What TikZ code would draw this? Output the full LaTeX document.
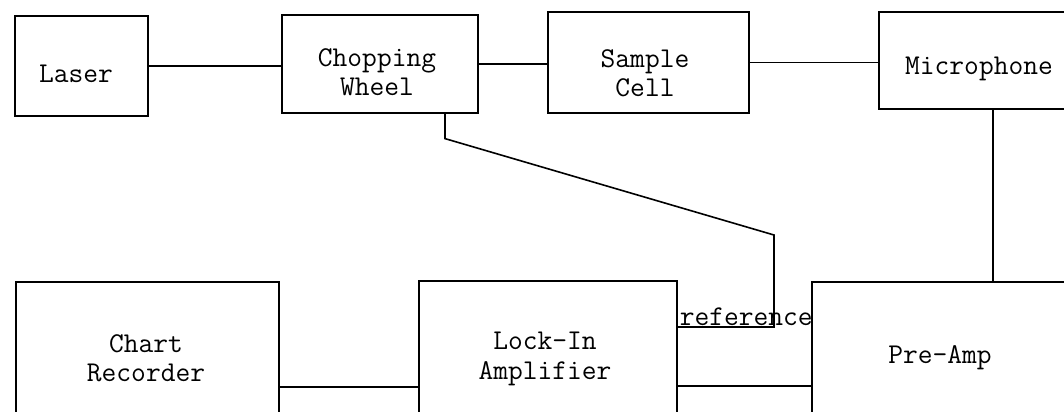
\documentclass[tikz,border=0pt]{standalone}
\usetikzlibrary{calc}
\begin{document}
\begin{tikzpicture}[x=0.75pt,y=-0.75pt, line width=1.2pt,
  box/.style={draw, rectangle, anchor=north west, inner sep=0pt},
  lbl/.style={font=\ttfamily\fontsize{21.5}{22}\selectfont, align=center, inner sep=0pt}]
\useasboundingbox (0,0) rectangle (1064,411);
\clip (0,0) rectangle (1064,411);
% boxes
\node[box, minimum width=133*0.75pt, minimum height=100*0.75pt] (laser) at (14,15) {};
\node[box, minimum width=196*0.75pt, minimum height=98*0.75pt] (chop) at (281,14) {};
\node[box, minimum width=201*0.75pt, minimum height=101*0.75pt] (sample) at (547,11) {};
\node[box, minimum width=220*0.75pt, minimum height=97*0.75pt] (mic) at (878,11) {};
\node[box, minimum width=263*0.75pt, minimum height=160*0.75pt] (chart) at (15,281) {};
\node[box, minimum width=258*0.75pt, minimum height=160*0.75pt] (lock) at (418,280) {};
\node[box, minimum width=260*0.75pt, minimum height=160*0.75pt] (pre) at (811,281) {};
% labels
\node[lbl] (tlaser) at (76,74) {Laser};
\node[lbl] (tchop) at (377,72) {Chopping\\Wheel};
\node[lbl] (tsample) at (645,73) {Sample\\Cell};
\node[lbl] (tmic) at (979,69) {Microphone};
\node[lbl] (tchart) at (146,358) {Chart\\Recorder};
\node[lbl] (tlock) at (545,359) {Lock-In\\Amplifier};
\node[lbl] (tpre) at (940,358) {Pre-Amp};
\node[lbl, anchor=base west] (reflbl) at (679,325) {reference};
% connectors
\draw (laser.east) -- (laser.east -| chop.west);
\draw (chop.east) -- (chop.east -| sample.west);
\draw (sample.east) -- (sample.east -| mic.west);
\coordinate (m1) at ($(mic.south west)+(115,0)$);
\draw (m1) -- (m1 |- pre.north);
\coordinate (r1) at ($(chop.south west)+(164,0)$);
\coordinate (bend1) at ($(r1)+(0,25)$);
\coordinate (bend2) at (774,235);
\coordinate (refin) at ($(lock.north east)+(0,47)$);
\draw (r1) -- (bend1) -- (bend2) -- (bend2 |- refin) -- (refin);
\coordinate (cl) at ($(chart.north east)+(0,106)$);
\draw (cl) -- (cl -| lock.west);
\coordinate (lp) at ($(lock.north east)+(0,106)$);
\draw (lp) -- (lp -| pre.west);
\end{tikzpicture}
\end{document}
